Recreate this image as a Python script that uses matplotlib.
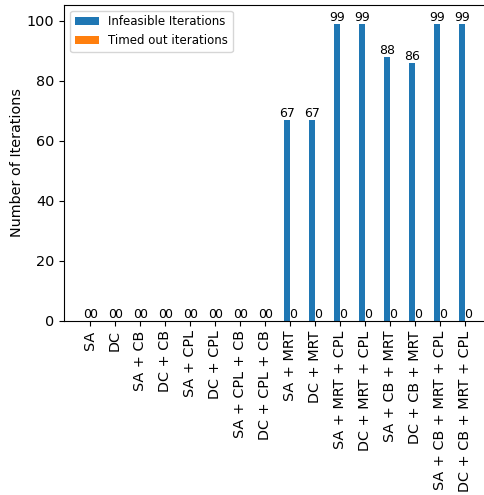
import matplotlib
matplotlib.use("Agg")
import matplotlib.pyplot as plt
import numpy as np

categories = [
    "SA", "DC", "SA + CB", "DC + CB", "SA + CPL", "DC + CPL",
    "SA + CPL + CB", "DC + CPL + CB", "SA + MRT", "DC + MRT",
    "SA + MRT + CPL", "DC + MRT + CPL", "SA + CB + MRT", "DC + CB + MRT",
    "SA + CB + MRT + CPL", "DC + CB + MRT + CPL",
]
infeasible = [0, 0, 0, 0, 0, 0, 0, 0, 67, 67, 99, 99, 88, 86, 99, 99]
timed_out = [0] * 16

fig = plt.figure(figsize=(4.84, 4.95), dpi=100)
ax = fig.add_axes([0.1328, 0.352, 0.8805, 0.6385])

x = np.arange(len(categories))
w = 0.25
b1 = ax.bar(x - w / 2, infeasible, w, label="Infeasible Iterations", color="#1f77b4")
b2 = ax.bar(x + w / 2, timed_out, w, label="Timed out iterations", color="#ff7f0e")
ax.bar_label(b1, fontsize=9)
ax.bar_label(b2, fontsize=9)

ax.set_xticks(x)
ax.set_xticklabels(categories, rotation=90, fontsize=10.4)
ax.tick_params(axis="y", labelsize=10.4)
ax.set_ylabel("Number of Iterations", fontsize=10.4, labelpad=2)
ax.set_ylim(0, 105.3)
ax.set_yticks([0, 20, 40, 60, 80, 100])
ax.legend(loc="upper left", fontsize=8.5)

fig.savefig("out.png", dpi=100)
